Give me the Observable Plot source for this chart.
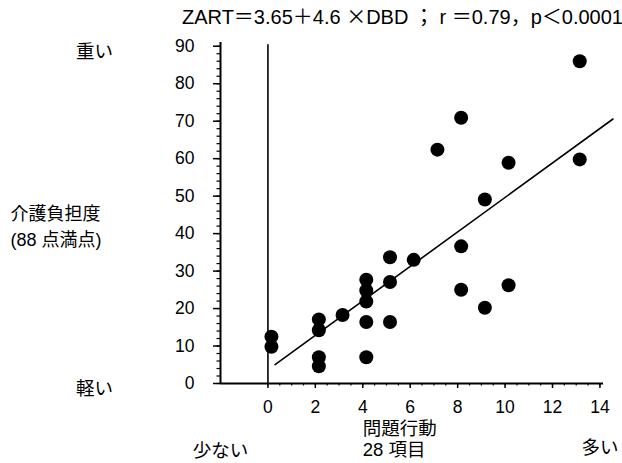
<!DOCTYPE html>
<html><head><meta charset="utf-8">
<script src="https://cdn.jsdelivr.net/npm/d3@7"></script>
<script src="https://cdn.jsdelivr.net/npm/@observablehq/plot@0.6"></script>
<style>
body{margin:0;background:#fff;}
#wrap{width:622px;font-family:"Liberation Sans",Arial,"Noto Sans CJK JP",sans-serif;color:#000;}
#title{height:30px;line-height:31px;padding-left:182px;font-size:20px;white-space:nowrap;}
.cjk{font-family:"Noto Sans CJK JP";}
</style></head>
<body><div id="wrap"><div id="title"></div></div>
<script>
// --- data ---
const problemBehaviors = [0,0, 2,2,2,2, 3, 4,4,4,4,4, 5,5,5, 6, 7, 8,8,8, 9,9, 10,10, 13,13];
const careBurden = [12.5,9.8, 17.1,14.2,7.0,4.6, 18.3, 27.7,24.8,21.9,16.4,7.0, 33.7,27.1,16.4, 33.0, 62.4, 70.9,36.6,25.0, 49.1,20.2, 58.9,26.2, 86.0,59.8];
const intercept = 3.65, slope = 4.6;
const fitRange = [0.3, 14.55];
const xTicks = [0,2,4,6,8,10,12,14];
const yTicks = [0,10,20,30,40,50,60,70,80,90];
const xMinorTicks = d3.range(0, 14.01, 0.5);
const yMinorTicks = d3.range(0, 90.01, 2);
const xDomain = [-2, 14.15];
const yDomain = [0, 91];
const zeroLineTop = 90.4;
const titleParts = [["ZART",0],["＝",1],["3.65",0],["＋",1],["4.6 ",0],["×",1],["DBD ",0],["；",1],[" r ",0],["＝",1],["0.79",0],["，",1],["p",0],["＜",1],["0.0001",0]];
const sideLabels = [{text:"重い", y:90}, {text:"軽い", y:0}];
const yTitle = "介護負担度\n(88 点満点)";
const lowEnd = [{text:"少ない", x:-2}];
const highEnd = [{text:"多い", x:14}];
const xTitleTop = [{text:"問題行動", x:4}];
const xTitleBottom = [{text:"28 項目", x:4}];

const points = problemBehaviors.map((x,i)=>({x, y:careBurden[i]}));
const fit = fitRange.map(x=>({x, y:intercept + slope*x}));

document.getElementById("title").innerHTML = titleParts.map(([t,c])=> c ? `<span class="cjk">${t}</span>` : t.replace(/ /g,"&nbsp;")).join("");

const font = '"Liberation Sans", Arial, "Noto Sans CJK JP", sans-serif';
const plot = Plot.plot({
  width: 622, height: 433,
  marginLeft: 220, marginRight: 19, marginTop: 12, marginBottom: 80,
  style: {fontFamily: font, fontSize: "17px", color: "#000", background: "#fff", overflow: "visible"},
  x: {domain: xDomain},
  y: {domain: yDomain},
  marks: [
    Plot.axisX(xMinorTicks, {tickSize: 2.5, strokeWidth: 1.2, text: null, label: null}),
    Plot.axisX(xTicks, {tickSize: 5, tickPadding: 12, strokeWidth: 1.5, label: null, fontSize: 17.5}),
    Plot.axisY(yMinorTicks, {tickSize: 3.5, strokeWidth: 1.2, text: null, label: null}),
    Plot.axisY(yTicks, {tickSize: 7, tickPadding: 19, strokeWidth: 1.5, label: null, fontSize: 17.5}),
    Plot.ruleY([0], {strokeWidth: 2}),
    Plot.ruleX([-2], {strokeWidth: 2}),
    Plot.ruleX([0], {y1: 0, y2: zeroLineTop, strokeWidth: 1.6}),
    Plot.line(fit, {x: "x", y: "y", strokeWidth: 1.6}),
    Plot.dot(points, {x: "x", y: "y", r: 7, fill: "black", dx: 3.5}),
    Plot.text(sideLabels, {y: "y", text: "text", frameAnchor: "left", dx: -126, dy: 6, textAnchor: "middle", fontSize: 18.5}),
    Plot.text([yTitle], {text: d=>d, frameAnchor: "left", dx: -210, dy: 12, textAnchor: "start", lineAnchor: "middle", lineHeight: 1.45, fontSize: 18}),
    Plot.text(lowEnd, {x: "x", text: "text", frameAnchor: "bottom", dy: 73, textAnchor: "middle", fontSize: 18.5}),
    Plot.text(highEnd, {x: "x", text: "text", frameAnchor: "bottom", dy: 70, textAnchor: "middle", fontSize: 18.5}),
    Plot.text(xTitleTop, {x: "x", text: "text", frameAnchor: "bottom", dy: 51, textAnchor: "start", fontSize: 18.5}),
    Plot.text(xTitleBottom, {x: "x", text: "text", frameAnchor: "bottom", dy: 72, textAnchor: "start", fontSize: 18.5})
  ]
});
document.getElementById("wrap").appendChild(plot);
</script></body></html>
